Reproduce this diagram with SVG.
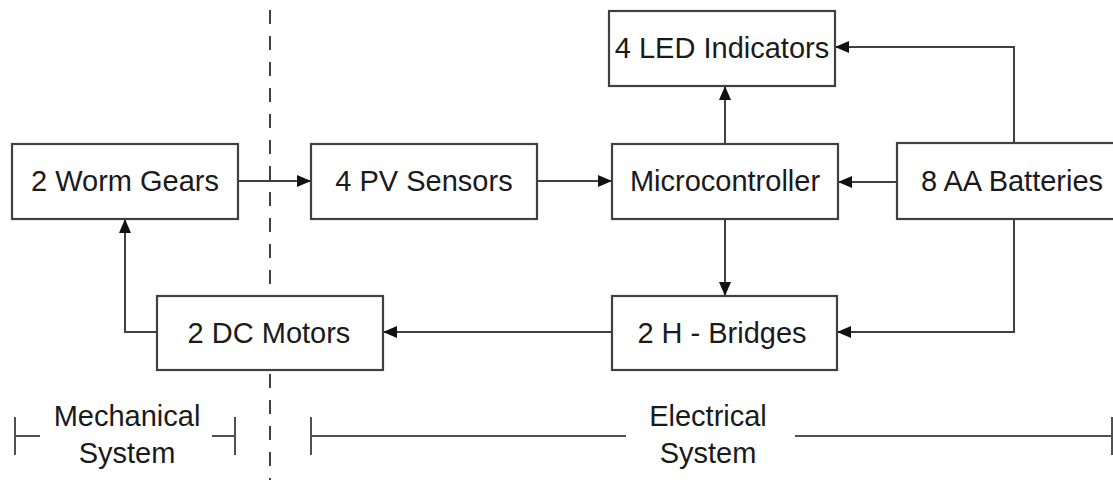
<svg xmlns="http://www.w3.org/2000/svg" width="1113" height="480" viewBox="0 0 1113 480">
<style>
.box{fill:#fff;stroke:#404040;stroke-width:2.2}
.lbl{font-family:"Liberation Sans",Arial,sans-serif;font-size:29px;fill:#1a1a1a;text-anchor:middle}
.con{fill:none;stroke:#404040;stroke-width:2}
.brk{fill:none;stroke:#505050;stroke-width:2}
</style>
<defs>
<marker id="ah" markerUnits="userSpaceOnUse" viewBox="0 0 14 12" refX="14" refY="6" markerWidth="14" markerHeight="12" orient="auto">
<path d="M0,0 L14,6 L0,12 z" fill="#111"/>
</marker>
</defs>
<rect width="1113" height="480" fill="#fff"/>
<line x1="270" y1="10" x2="270" y2="480" stroke="#404040" stroke-width="2" stroke-dasharray="14 12"/>
<g id="connectors">
<path class="con" d="M238,181 H311" marker-end="url(#ah)"/>
<path class="con" d="M537,181 H612" marker-end="url(#ah)"/>
<path class="con" d="M897,182 H838" marker-end="url(#ah)"/>
<path class="con" d="M725,144 V86" marker-end="url(#ah)"/>
<path class="con" d="M1014,143 V47 H835" marker-end="url(#ah)"/>
<path class="con" d="M1014,219 V332 H837" marker-end="url(#ah)"/>
<path class="con" d="M725,219 V296" marker-end="url(#ah)"/>
<path class="con" d="M612,332 H383" marker-end="url(#ah)"/>
<path class="con" d="M157,332 H125 V219" marker-end="url(#ah)"/>
</g>
<g id="worm"><rect class="box" x="12" y="144" width="226" height="75"/><text class="lbl" x="125" y="191">2 Worm Gears</text></g>
<g id="pv"><rect class="box" x="311" y="144" width="226" height="75"/><text class="lbl" x="424" y="191">4 PV Sensors</text></g>
<g id="micro"><rect class="box" x="612" y="144" width="226" height="75"/><text class="lbl" x="725" y="191">Microcontroller</text></g>
<g id="batt"><rect class="box" x="897" y="143" width="230" height="76"/><text class="lbl" x="1012" y="191">8 AA Batteries</text></g>
<g id="led"><rect class="box" x="609" y="11" width="226" height="75"/><text class="lbl" x="722" y="58">4 LED Indicators</text></g>
<g id="dc"><rect class="box" x="157" y="296" width="226" height="74"/><text class="lbl" x="269" y="343">2 DC Motors</text></g>
<g id="hb"><rect class="box" x="612" y="296" width="225" height="74"/><text class="lbl" x="722" y="343">2 H - Bridges</text></g>
<g id="mech">
<path class="brk" d="M15,417 V455 M15,436 H40 M212,436 H235 M235,417 V455"/>
<text class="lbl" x="127" y="426">Mechanical</text>
<text class="lbl" x="127" y="463">System</text>
</g>
<g id="elec">
<path class="brk" d="M311,417 V455 M311,436 H626 M795,436 H1112 M1112,417 V455"/>
<text class="lbl" x="708" y="426">Electrical</text>
<text class="lbl" x="708" y="463">System</text>
</g>
</svg>
